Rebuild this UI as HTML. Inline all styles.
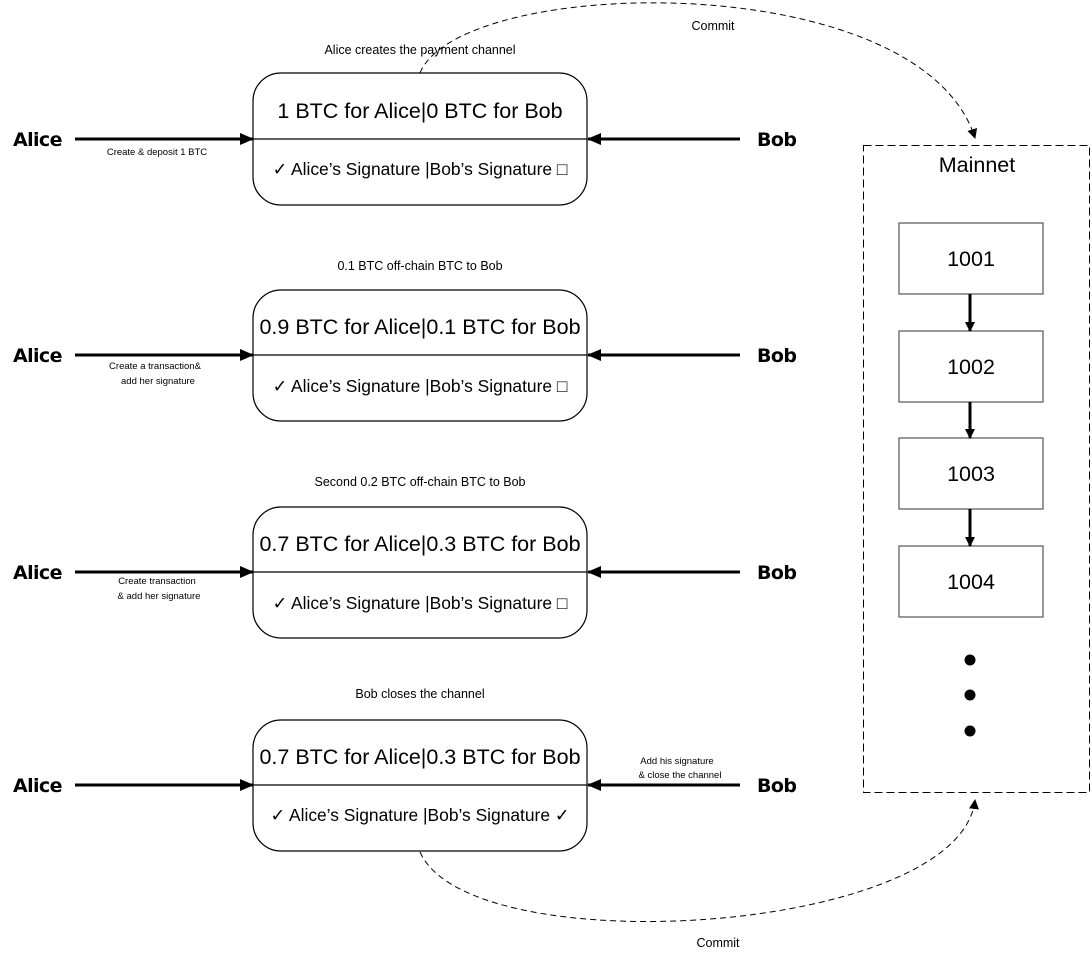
<!DOCTYPE html>
<html><head><meta charset="utf-8"><style>
html,body{margin:0;padding:0;background:#fff;}
svg{display:block;}
text{font-family:"Liberation Sans","DejaVu Sans",sans-serif;fill:#000;}
.big{font-size:21.5px;}
.sig{font-size:17.4px;}
.cap{font-size:12.5px;}
.sm{font-size:9.5px;}
.name{font-size:19px;font-weight:bold;letter-spacing:-0.6px;font-family:"DejaVu Sans","Liberation Sans",sans-serif;}
</style></head><body>
<svg width="1092" height="960" viewBox="0 0 1092 960" xmlns="http://www.w3.org/2000/svg">
<defs>
<marker id="ah" markerWidth="10" markerHeight="10" refX="9" refY="5" orient="auto" markerUnits="userSpaceOnUse"><path d="M0,0 L10,5 L0,10 z" fill="#000"/></marker>
<marker id="ah2" markerWidth="14" markerHeight="12" refX="13" refY="6" orient="auto" markerUnits="userSpaceOnUse"><path d="M0,0 L14,6 L0,12 z" fill="#000"/></marker>
</defs>

<path d="M420,73 C460,-25 920,-35 975,138" fill="none" stroke="#000" stroke-width="1" stroke-dasharray="6,4" marker-end="url(#ah)"/>
<text x="713" y="30" class="cap" text-anchor="middle">Commit</text>
<path d="M420,852 C470,965 960,935 975,800" fill="none" stroke="#000" stroke-width="1" stroke-dasharray="6,4" marker-end="url(#ah)"/>
<text x="718" y="947" class="cap" text-anchor="middle">Commit</text>

<g>
<text x="420" y="54" class="cap" text-anchor="middle">Alice creates the payment channel</text>
<rect x="253" y="73" width="334" height="132" rx="28" fill="#fff" stroke="#000" stroke-width="1.2"/>
<line x1="253" y1="139" x2="587" y2="139" stroke="#000" stroke-width="1.2"/>
<text x="420" y="118" class="big" text-anchor="middle">1 BTC for Alice|0 BTC for Bob</text>
<text x="420" y="175" class="sig" text-anchor="middle">✓ Alice’s Signature |Bob’s Signature □</text>
<text x="13" y="146" class="name">Alice</text>
<line x1="75" y1="139" x2="253" y2="139" stroke="#000" stroke-width="3" marker-end="url(#ah2)"/>
<text x="157" y="155" class="sm" text-anchor="middle">Create &amp; deposit 1 BTC</text>
<text x="757" y="146" class="name">Bob</text>
<line x1="740" y1="139" x2="588" y2="139" stroke="#000" stroke-width="3" marker-end="url(#ah2)"/>
</g>

<g>
<text x="420" y="270" class="cap" text-anchor="middle">0.1 BTC off-chain BTC to Bob</text>
<rect x="253" y="290" width="334" height="131" rx="28" fill="#fff" stroke="#000" stroke-width="1.2"/>
<line x1="253" y1="355" x2="587" y2="355" stroke="#000" stroke-width="1.2"/>
<text x="420" y="334" class="big" text-anchor="middle">0.9 BTC for Alice|0.1 BTC for Bob</text>
<text x="420" y="392" class="sig" text-anchor="middle">✓ Alice’s Signature |Bob’s Signature □</text>
<text x="13" y="362" class="name">Alice</text>
<line x1="75" y1="355" x2="253" y2="355" stroke="#000" stroke-width="3" marker-end="url(#ah2)"/>
<text x="155" y="369" class="sm" text-anchor="middle">Create a transaction&amp;</text>
<text x="158" y="384" class="sm" text-anchor="middle">add her signature</text>
<text x="757" y="362" class="name">Bob</text>
<line x1="740" y1="355" x2="588" y2="355" stroke="#000" stroke-width="3" marker-end="url(#ah2)"/>
</g>

<g>
<text x="420" y="486" class="cap" text-anchor="middle">Second 0.2 BTC off-chain BTC to Bob</text>
<rect x="253" y="507" width="334" height="131" rx="28" fill="#fff" stroke="#000" stroke-width="1.2"/>
<line x1="253" y1="572" x2="587" y2="572" stroke="#000" stroke-width="1.2"/>
<text x="420" y="551" class="big" text-anchor="middle">0.7 BTC for Alice|0.3 BTC for Bob</text>
<text x="420" y="609" class="sig" text-anchor="middle">✓ Alice’s Signature |Bob’s Signature □</text>
<text x="13" y="579" class="name">Alice</text>
<line x1="75" y1="572" x2="253" y2="572" stroke="#000" stroke-width="3" marker-end="url(#ah2)"/>
<text x="157" y="584" class="sm" text-anchor="middle">Create transaction</text>
<text x="159" y="599" class="sm" text-anchor="middle">&amp; add her signature</text>
<text x="757" y="579" class="name">Bob</text>
<line x1="740" y1="572" x2="588" y2="572" stroke="#000" stroke-width="3" marker-end="url(#ah2)"/>
</g>

<g>
<text x="420" y="698" class="cap" text-anchor="middle">Bob closes the channel</text>
<rect x="253" y="720" width="334" height="131" rx="28" fill="#fff" stroke="#000" stroke-width="1.2"/>
<line x1="253" y1="785" x2="587" y2="785" stroke="#000" stroke-width="1.2"/>
<text x="420" y="764" class="big" text-anchor="middle">0.7 BTC for Alice|0.3 BTC for Bob</text>
<text x="420" y="821" class="sig" text-anchor="middle">✓ Alice’s Signature |Bob’s Signature ✓</text>
<text x="13" y="792" class="name">Alice</text>
<line x1="75" y1="785" x2="253" y2="785" stroke="#000" stroke-width="3" marker-end="url(#ah2)"/>
<text x="757" y="792" class="name">Bob</text>
<line x1="740" y1="785" x2="588" y2="785" stroke="#000" stroke-width="3" marker-end="url(#ah2)"/>
<text x="677" y="764" class="sm" text-anchor="middle">Add his signature</text>
<text x="680" y="778" class="sm" text-anchor="middle">&amp; close the channel</text>
</g>

<rect x="863.5" y="145.5" width="226" height="647" fill="none" stroke="#000" stroke-width="1" stroke-dasharray="8,4"/>
<text x="977" y="172" class="big" text-anchor="middle">Mainnet</text>
<g fill="#fff" stroke="#555" stroke-width="1.2">
<rect x="899" y="223" width="144" height="71"/>
<rect x="899" y="331" width="144" height="71"/>
<rect x="899" y="438" width="144" height="71"/>
<rect x="899" y="546" width="144" height="71"/>
</g>
<text x="971" y="266" class="big" text-anchor="middle">1001</text>
<text x="971" y="374" class="big" text-anchor="middle">1002</text>
<text x="971" y="481" class="big" text-anchor="middle">1003</text>
<text x="971" y="589" class="big" text-anchor="middle">1004</text>
<line x1="970" y1="294" x2="970" y2="331" stroke="#000" stroke-width="3" marker-end="url(#ah)"/>
<line x1="970" y1="402" x2="970" y2="438" stroke="#000" stroke-width="3" marker-end="url(#ah)"/>
<line x1="970" y1="509" x2="970" y2="546" stroke="#000" stroke-width="3" marker-end="url(#ah)"/>
<circle cx="970" cy="660" r="5.5" fill="#000"/>
<circle cx="970" cy="695" r="5.5" fill="#000"/>
<circle cx="970" cy="731" r="5.5" fill="#000"/>
</svg>
</body></html>
